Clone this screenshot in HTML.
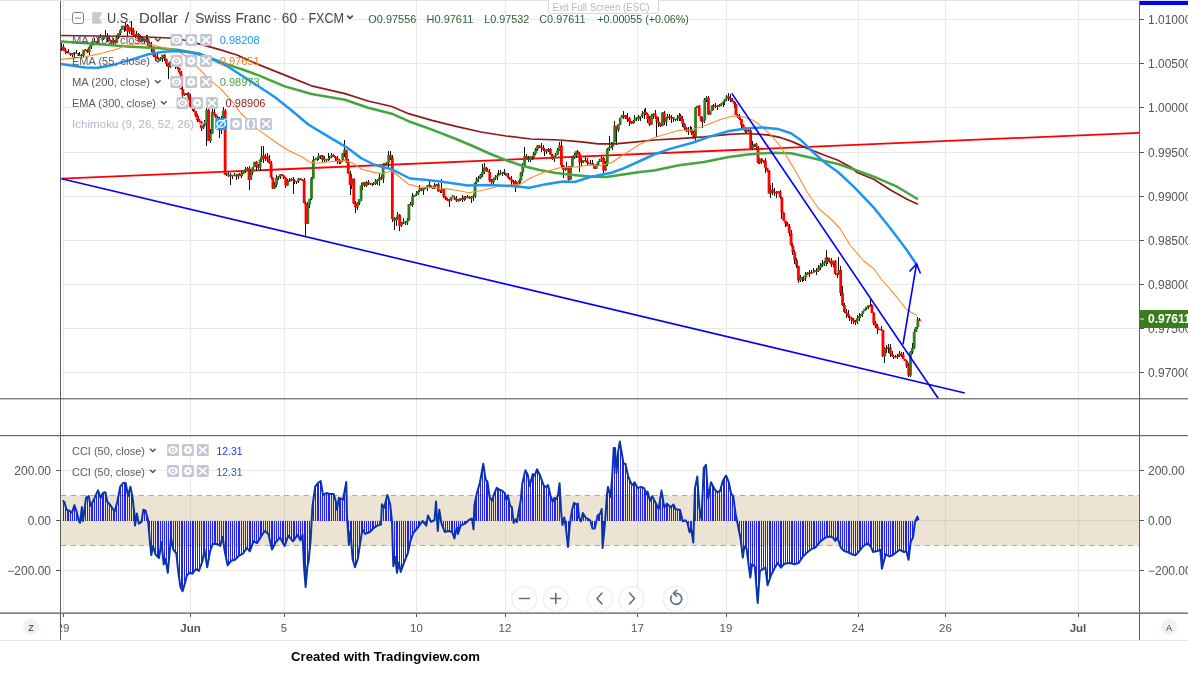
<!DOCTYPE html>
<html lang="en"><head><meta charset="utf-8"><title>U.S. Dollar / Swiss Franc chart</title>
<style>
html,body{margin:0;padding:0;background:#fff;}
body{width:1188px;height:676px;overflow:hidden;font-family:"Liberation Sans",sans-serif;}
svg{display:block;position:absolute;left:0;top:0}
text{font-family:"Liberation Sans",sans-serif;}
.ax{font-size:12px;fill:#555}
.lg{font-size:11.5px;fill:#5c5c5c}
.tm{font-size:11.5px;fill:#555}
</style></head><body>
<svg width="1188" height="676" viewBox="0 0 1188 676">
<rect x="0" y="0" width="1188" height="676" fill="#fff"/>

<g shape-rendering="crispEdges" stroke="#e9e9e9" stroke-width="1">
<line x1="63" y1="1" x2="63" y2="613"/>
<line x1="190.5" y1="1" x2="190.5" y2="613"/>
<line x1="284" y1="1" x2="284" y2="613"/>
<line x1="416.5" y1="1" x2="416.5" y2="613"/>
<line x1="505" y1="1" x2="505" y2="613"/>
<line x1="637.5" y1="1" x2="637.5" y2="613"/>
<line x1="726" y1="1" x2="726" y2="613"/>
<line x1="858" y1="1" x2="858" y2="613"/>
<line x1="945.5" y1="1" x2="945.5" y2="613"/>
<line x1="1078" y1="1" x2="1078" y2="613"/>
<line x1="61" y1="19.5" x2="1139" y2="19.5"/>
<line x1="61" y1="63.5" x2="1139" y2="63.5"/>
<line x1="61" y1="107.5" x2="1139" y2="107.5"/>
<line x1="61" y1="152.5" x2="1139" y2="152.5"/>
<line x1="61" y1="196.5" x2="1139" y2="196.5"/>
<line x1="61" y1="240.5" x2="1139" y2="240.5"/>
<line x1="61" y1="284.5" x2="1139" y2="284.5"/>
<line x1="61" y1="328.5" x2="1139" y2="328.5"/>
<line x1="61" y1="372.5" x2="1139" y2="372.5"/>
<line x1="61" y1="470.5" x2="1139" y2="470.5"/>
<line x1="61" y1="570.5" x2="1139" y2="570.5"/>
</g>
<rect x="61" y="495.5" width="1078" height="50" fill="#ece3d3"/>
<g shape-rendering="crispEdges" stroke="#d9d2c4" stroke-width="1">
<line x1="190.5" y1="496" x2="190.5" y2="545"/>
<line x1="284" y1="496" x2="284" y2="545"/>
<line x1="416.5" y1="496" x2="416.5" y2="545"/>
<line x1="505" y1="496" x2="505" y2="545"/>
<line x1="637.5" y1="496" x2="637.5" y2="545"/>
<line x1="726" y1="496" x2="726" y2="545"/>
<line x1="858" y1="496" x2="858" y2="545"/>
<line x1="945.5" y1="496" x2="945.5" y2="545"/>
<line x1="1078" y1="496" x2="1078" y2="545"/>
<line x1="61" y1="520.5" x2="1139" y2="520.5"/>
</g>
<g stroke="#a9a9a9" stroke-width="1" stroke-dasharray="5.3,4.4"><line x1="61" y1="495.5" x2="1139" y2="495.5"/><line x1="61" y1="545.5" x2="1139" y2="545.5"/></g>
<g stroke="#2020ff" stroke-width="1" shape-rendering="crispEdges">
<path d="M63.44 520.5V501.2M65.28 520.5V505.0M67.11 520.5V510.0M68.95 520.5V510.6M70.79 520.5V511.7M72.62 520.5V510.7M74.46 520.5V505.4M76.30 520.5V510.6M78.14 520.5V518.3M79.97 520.5V522.8M81.81 520.5V507.7M83.65 520.5V516.0M85.49 520.5V501.8M87.33 520.5V496.9M89.16 520.5V498.4M91.00 520.5V505.2M92.84 520.5V501.6M94.67 520.5V497.9M96.51 520.5V493.7M98.35 520.5V491.4M100.19 520.5V496.4M102.03 520.5V495.0M103.86 520.5V492.7M105.70 520.5V493.7M107.54 520.5V501.9M109.38 520.5V504.1M111.21 520.5V506.3M113.05 520.5V509.2M114.89 520.5V510.7M116.72 520.5V504.0M118.56 520.5V495.4M120.40 520.5V486.4M122.24 520.5V484.0M124.07 520.5V483.0M125.91 520.5V484.2M127.75 520.5V494.6M129.59 520.5V489.8M131.43 520.5V491.9M133.26 520.5V503.9M135.10 520.5V525.0M136.94 520.5V513.7M138.78 520.5V523.7M140.61 520.5V522.5M142.45 520.5V515.5M144.29 520.5V510.2M146.12 520.5V512.7M147.96 520.5V519.9M149.80 520.5V540.4M151.64 520.5V553.4M153.47 520.5V547.6M155.31 520.5V554.0M157.15 520.5V556.1M158.99 520.5V558.0M160.82 520.5V546.5M162.66 520.5V553.9M164.50 520.5V562.1M166.34 520.5V563.6M168.17 520.5V568.7M170.01 520.5V548.5M171.85 520.5V542.0M173.69 520.5V550.1M175.53 520.5V552.3M177.36 520.5V563.2M179.20 520.5V578.5M181.04 520.5V588.0M182.88 520.5V590.3M184.71 520.5V584.0M186.55 520.5V577.0M188.39 520.5V574.1M190.22 520.5V573.0M192.06 520.5V573.6M193.90 520.5V571.7M195.74 520.5V569.3M197.57 520.5V570.1M199.41 520.5V569.6M201.25 520.5V564.5M203.09 520.5V557.7M204.92 520.5V552.9M206.76 520.5V564.5M208.60 520.5V559.4M210.44 520.5V550.3M212.27 520.5V545.4M214.11 520.5V544.0M215.95 520.5V544.0M217.79 520.5V544.3M219.62 520.5V545.6M221.46 520.5V541.1M223.30 520.5V541.4M225.14 520.5V553.2M226.97 520.5V562.3M228.81 520.5V563.9M230.65 520.5V561.5M232.49 520.5V560.4M234.32 520.5V560.0M236.16 520.5V558.6M238.00 520.5V556.7M239.84 520.5V555.3M241.67 520.5V554.3M243.51 520.5V553.0M245.35 520.5V550.3M247.19 520.5V548.0M249.02 520.5V550.5M250.86 520.5V548.6M252.70 520.5V543.5M254.54 520.5V541.8M256.38 520.5V542.6M258.21 520.5V541.3M260.05 520.5V538.3M261.89 520.5V535.3M263.73 520.5V532.4M265.56 520.5V531.8M267.40 520.5V533.2M269.24 520.5V537.9M271.07 520.5V545.7M272.91 520.5V547.8M274.75 520.5V544.1M276.59 520.5V541.3M278.43 520.5V539.3M280.26 520.5V538.1M282.10 520.5V541.4M283.94 520.5V544.8M285.77 520.5V542.7M287.61 520.5V537.6M289.45 520.5V537.1M291.29 520.5V539.3M293.12 520.5V541.1M294.96 520.5V538.5M296.80 520.5V535.9M298.64 520.5V536.9M300.48 520.5V540.2M302.31 520.5V535.5M304.15 520.5V568.2M305.99 520.5V582.5M307.82 520.5V564.5M309.66 520.5V550.4M311.50 520.5V523.7M313.34 520.5V500.2M315.18 520.5V486.9M317.01 520.5V484.3M318.85 520.5V482.4M320.69 520.5V481.0M322.53 520.5V492.1M324.36 520.5V494.2M326.20 520.5V493.1M328.04 520.5V493.5M329.88 520.5V494.0M331.71 520.5V494.0M333.55 520.5V494.0M335.39 520.5V499.8M337.23 520.5V508.4M339.06 520.5V497.9M340.90 520.5V498.7M342.74 520.5V499.5M344.57 520.5V491.2M346.41 520.5V487.5M348.25 520.5V535.2M350.09 520.5V533.9M351.93 520.5V550.3M353.76 520.5V562.9M355.60 520.5V565.4M357.44 520.5V560.0M359.28 520.5V548.9M361.11 520.5V537.2M362.95 520.5V530.2M364.79 520.5V533.2M366.62 520.5V533.3M368.46 520.5V532.6M370.30 520.5V531.5M372.14 520.5V529.7M373.98 520.5V528.0M375.81 520.5V526.6M377.65 520.5V525.5M379.49 520.5V525.0M381.32 520.5V517.3M383.16 520.5V506.5M385.00 520.5V504.2M386.84 520.5V497.2M388.68 520.5V499.2M390.51 520.5V507.4M392.35 520.5V533.9M394.19 520.5V562.0M396.03 520.5V564.2M397.86 520.5V568.2M399.70 520.5V566.7M401.54 520.5V569.5M403.38 520.5V564.4M405.21 520.5V559.6M407.05 520.5V555.1M408.89 520.5V548.3M410.73 520.5V540.1M412.56 520.5V535.0M414.40 520.5V531.7M416.24 520.5V529.5M418.07 520.5V527.3M419.91 520.5V524.7M421.75 520.5V522.2M423.59 520.5V522.2M425.43 520.5V524.5M427.26 520.5V519.8M429.10 520.5V517.8M430.94 520.5V521.8M432.77 520.5V521.0M434.61 520.5V519.8M436.45 520.5V508.9M438.29 520.5V524.1M440.12 520.5V515.0M441.96 520.5V524.9M443.80 520.5V529.5M445.64 520.5V531.8M447.48 520.5V531.3M449.31 520.5V531.2M451.15 520.5V531.7M452.99 520.5V534.3M454.82 520.5V536.6M456.66 520.5V528.5M458.50 520.5V532.3M460.34 520.5V526.4M462.18 520.5V524.9M464.01 520.5V524.1M465.85 520.5V522.9M467.69 520.5V521.2M469.52 520.5V519.7M471.36 520.5V518.8M473.20 520.5V527.1M475.04 520.5V502.1M476.88 520.5V493.4M478.71 520.5V486.9M480.55 520.5V479.2M482.39 520.5V468.9M484.23 520.5V470.1M486.06 520.5V480.0M487.90 520.5V484.9M489.74 520.5V497.2M491.57 520.5V500.1M493.41 520.5V496.4M495.25 520.5V491.4M497.09 520.5V488.2M498.93 520.5V489.4M500.76 520.5V490.1M502.60 520.5V491.0M504.44 520.5V492.8M506.27 520.5V499.8M508.11 520.5V496.7M509.95 520.5V505.2M511.79 520.5V507.2M513.62 520.5V522.3M515.46 520.5V519.6M517.30 520.5V520.1M519.14 520.5V508.8M520.98 520.5V497.7M522.81 520.5V481.4M524.65 520.5V473.5M526.49 520.5V472.4M528.32 520.5V478.1M530.16 520.5V483.9M532.00 520.5V477.0M533.84 520.5V475.0M535.67 520.5V472.9M537.51 520.5V470.3M539.35 520.5V474.1M541.19 520.5V478.5M543.02 520.5V483.6M544.86 520.5V486.4M546.70 520.5V486.5M548.54 520.5V487.3M550.38 520.5V495.2M552.21 520.5V500.6M554.05 520.5V498.7M555.89 520.5V498.8M557.73 520.5V495.9M559.56 520.5V483.5M561.40 520.5V514.3M563.24 520.5V521.6M565.07 520.5V522.6M566.91 520.5V537.0M568.75 520.5V537.8M570.59 520.5V519.6M572.42 520.5V508.4M574.26 520.5V502.9M576.10 520.5V504.3M577.94 520.5V505.2M579.77 520.5V518.9M581.61 520.5V518.4M583.45 520.5V514.0M585.29 520.5V517.0M587.12 520.5V518.4M588.96 520.5V519.5M590.80 520.5V522.4M592.64 520.5V528.6M594.48 520.5V528.6M596.31 520.5V521.6M598.15 520.5V515.2M599.99 520.5V513.8M601.83 520.5V514.4M603.66 520.5V536.9M605.50 520.5V515.7M607.34 520.5V492.0M609.17 520.5V491.5M611.01 520.5V491.5M612.85 520.5V464.3M614.69 520.5V448.0M616.52 520.5V472.7M618.36 520.5V450.5M620.20 520.5V443.9M622.04 520.5V454.8M623.88 520.5V463.8M625.71 520.5V465.2M627.55 520.5V473.7M629.39 520.5V479.2M631.23 520.5V483.4M633.06 520.5V484.6M634.90 520.5V482.9M636.74 520.5V486.6M638.58 520.5V487.6M640.41 520.5V487.1M642.25 520.5V487.4M644.09 520.5V488.3M645.92 520.5V492.5M647.76 520.5V492.2M649.60 520.5V499.3M651.44 520.5V497.8M653.27 520.5V498.3M655.11 520.5V501.9M656.95 520.5V505.5M658.79 520.5V508.4M660.62 520.5V496.4M662.46 520.5V496.3M664.30 520.5V507.3M666.14 520.5V504.8M667.98 520.5V504.6M669.81 520.5V506.4M671.65 520.5V506.4M673.49 520.5V504.5M675.33 520.5V508.8M677.16 520.5V509.4M679.00 520.5V509.8M680.84 520.5V513.4M682.67 520.5V520.7M684.51 520.5V520.6M686.35 520.5V521.4M688.19 520.5V526.3M690.02 520.5V530.9M691.86 520.5V533.2M693.70 520.5V529.1M695.54 520.5V485.6M697.38 520.5V477.8M699.21 520.5V506.3M701.05 520.5V516.5M702.89 520.5V488.0M704.73 520.5V466.6M706.56 520.5V473.6M708.40 520.5V497.6M710.24 520.5V486.7M712.08 520.5V484.3M713.91 520.5V487.9M715.75 520.5V490.6M717.59 520.5V492.0M719.42 520.5V491.2M721.26 520.5V486.5M723.10 520.5V480.5M724.94 520.5V477.3M726.77 520.5V477.4M728.61 520.5V481.8M730.45 520.5V490.5M732.29 520.5V495.1M734.12 520.5V502.8M735.96 520.5V515.5M737.80 520.5V524.8M739.64 520.5V533.9M741.48 520.5V546.2M743.31 520.5V553.8M745.15 520.5V547.3M746.99 520.5V551.8M748.83 520.5V566.7M750.66 520.5V574.8M752.50 520.5V564.7M754.34 520.5V566.1M756.17 520.5V583.8M758.01 520.5V598.5M759.85 520.5V571.7M761.69 520.5V569.9M763.52 520.5V568.8M765.36 520.5V567.6M767.20 520.5V582.1M769.04 520.5V581.1M770.88 520.5V575.7M772.71 520.5V571.9M774.55 520.5V568.3M776.39 520.5V565.1M778.23 520.5V563.8M780.06 520.5V566.3M781.90 520.5V566.6M783.74 520.5V564.4M785.57 520.5V563.6M787.41 520.5V563.3M789.25 520.5V563.1M791.09 520.5V563.4M792.92 520.5V563.9M794.76 520.5V564.2M796.60 520.5V563.6M798.44 520.5V563.1M800.27 520.5V560.6M802.11 520.5V557.8M803.95 520.5V555.6M805.79 520.5V553.8M807.62 520.5V552.0M809.46 520.5V550.6M811.30 520.5V549.2M813.14 520.5V548.3M814.98 520.5V547.7M816.81 520.5V545.7M818.65 520.5V543.4M820.49 520.5V541.5M822.32 520.5V540.0M824.16 520.5V538.5M826.00 520.5V537.4M827.84 520.5V537.0M829.67 520.5V536.5M831.51 520.5V537.1M833.35 520.5V538.1M835.19 520.5V540.8M837.02 520.5V538.3M838.86 520.5V541.7M840.70 520.5V547.3M842.54 520.5V549.3M844.38 520.5V551.1M846.21 520.5V551.6M848.05 520.5V552.3M849.89 520.5V553.2M851.73 520.5V554.2M853.56 520.5V554.8M855.40 520.5V555.3M857.24 520.5V553.4M859.07 520.5V551.4M860.91 520.5V549.1M862.75 520.5V546.8M864.59 520.5V545.3M866.42 520.5V544.0M868.26 520.5V544.0M870.10 520.5V545.8M871.94 520.5V549.3M873.77 520.5V551.8M875.61 520.5V551.4M877.45 520.5V551.0M879.29 520.5V550.2M881.12 520.5V559.5M882.96 520.5V564.7M884.80 520.5V557.7M886.64 520.5V554.8M888.48 520.5V555.9M890.31 520.5V556.1M892.15 520.5V555.2M893.99 520.5V554.3M895.82 520.5V552.8M897.66 520.5V551.4M899.50 520.5V549.9M901.34 520.5V550.7M903.17 520.5V551.6M905.01 520.5V551.6M906.85 520.5V553.2M908.69 520.5V558.3M910.52 520.5V543.4M912.36 520.5V538.8M914.20 520.5V528.2M916.04 520.5V519.7M917.88 520.5V518.1" fill="none"/>
</g>
<polyline points="62.8,500.5 64.6,502.4 66.5,509.8 69.3,510.7 72.0,512.6 74.4,505.2 76.7,511.7 78.5,520.0 80.0,522.8 81.9,507.0 83.0,521.0 86.0,497.8 88.7,496.0 90.6,506.0 94.3,498.7 98.0,490.4 100.7,497.8 103.0,493.0 105.4,492.2 107.2,501.5 111.0,506.0 114.6,511.7 117.4,501.5 120.2,486.7 123.0,483.0 125.7,483.0 128.0,496.0 130.4,486.7 132.6,497.8 134.4,514.4 135.0,525.6 136.9,513.5 138.7,523.7 141.5,521.9 143.3,509.8 145.6,510.7 148.0,520.0 149.8,540.4 151.3,555.2 153.0,546.0 155.4,554.3 159.0,558.0 161.5,542.2 163.7,564.4 165.6,558.9 167.8,572.8 171.0,537.6 173.3,549.6 176.3,553.3 178.5,573.7 180.4,586.7 182.6,591.3 185.0,583.0 186.9,575.6 189.6,572.8 192.4,573.7 196.0,569.0 198.9,571.0 202.6,560.7 204.4,549.6 207.2,567.2 210.0,551.5 212.8,544.0 217.4,544.0 220.2,546.0 222.6,536.7 224.8,551.5 227.6,565.4 231.3,560.7 235.0,559.8 238.7,556.0 243.3,553.3 247.0,547.8 249.8,551.5 253.5,541.3 257.2,543.0 261.0,536.7 264.6,531.0 268.3,533.9 272.0,549.6 275.7,542.2 280.0,537.6 284.6,546.0 288.3,535.7 293.0,541.3 297.6,534.8 300.4,540.4 302.6,534.8 304.0,566.3 305.6,587.0 307.4,566.3 308.7,560.7 310.6,540.4 312.4,507.0 315.2,486.7 318.0,483.0 320.7,481.0 323.0,495.0 326.3,493.0 330.0,494.0 333.7,494.0 335.6,500.5 337.0,509.8 338.9,497.8 343.0,499.6 346.3,482.0 347.0,516.3 348.9,545.0 350.4,531.0 352.6,558.9 355.0,567.2 357.8,558.9 360.0,544.0 362.4,529.3 365.2,533.9 369.8,532.0 373.5,528.3 377.2,525.6 381.0,524.6 381.9,504.3 384.0,508.0 387.4,495.0 390.2,504.3 392.0,521.9 393.3,566.3 395.2,557.0 397.0,572.8 398.9,562.6 400.7,571.9 404.0,562.6 407.8,553.3 410.6,540.4 413.3,533.0 418.0,527.4 422.6,521.0 426.3,525.6 428.0,515.4 431.0,521.9 434.6,520.0 436.0,501.5 437.8,531.0 439.3,509.8 441.5,523.7 444.8,532.0 448.5,531.0 452.2,532.0 454.4,538.5 456.9,527.4 458.0,533.9 460.6,525.6 465.0,523.7 468.9,520.0 472.0,518.5 473.5,529.3 474.4,505.2 476.7,494.0 480.0,482.3 483.3,463.8 485.6,479.5 487.4,481.4 489.6,497.0 492.0,500.8 494.4,493.4 496.7,487.9 499.4,489.7 502.2,490.6 505.0,493.4 506.3,499.9 507.8,495.3 510.0,505.4 511.9,507.3 513.7,523.0 515.6,519.3 517.0,522.0 518.9,510.0 520.7,500.8 522.2,484.0 525.4,470.3 527.8,474.9 529.6,486.0 532.8,474.0 534.6,475.8 537.0,469.3 540.2,475.8 543.9,486.0 546.3,487.0 548.0,485.0 550.4,495.3 552.6,501.7 554.4,498.0 556.3,499.0 558.0,495.3 559.6,483.2 561.0,510.0 562.4,524.9 564.3,517.5 566.0,528.6 568.0,547.0 569.8,524.9 572.0,510.0 574.0,502.7 576.3,504.5 577.8,503.6 579.0,517.5 581.0,521.2 582.8,512.9 585.6,517.5 590.2,520.3 592.6,528.6 594.8,528.6 597.6,515.6 600.0,513.8 601.7,509.0 602.6,548.0 605.0,523.0 606.9,495.3 608.0,487.0 610.6,497.0 612.4,473.0 613.7,448.0 615.0,448.0 616.5,473.0 618.0,452.7 619.8,441.6 621.7,452.7 623.5,463.8 625.4,463.8 628.0,475.8 631.0,483.2 632.8,485.0 634.6,482.3 637.4,487.9 641.0,487.0 643.9,487.9 646.7,494.3 647.6,491.6 650.0,500.8 652.2,496.2 655.0,501.7 658.7,509.0 661.5,490.6 664.3,507.3 667.0,503.6 670.7,507.3 673.5,504.5 675.4,509.0 680.0,510.0 682.8,521.2 685.6,520.3 687.4,523.0 689.6,532.3 691.0,527.7 693.3,542.5 694.9,488.8 697.3,476.6 699.3,507.7 701.5,518.8 703.8,467.8 706.0,464.9 708.2,498.8 711.0,482.2 714.4,488.8 717.0,492.2 720.0,491.0 722.8,481.0 726.0,475.5 728.8,482.2 731.0,493.3 733.3,496.6 735.5,513.2 737.7,524.3 740.6,538.7 742.8,557.6 744.3,546.5 746.6,548.7 748.8,566.5 750.3,577.6 752.0,564.3 754.8,566.5 757.7,603.0 759.9,571.0 765.4,567.6 767.6,585.3 771.0,575.3 774.3,568.7 777.6,563.0 781.0,567.6 784.3,563.8 789.8,563.0 794.3,564.3 798.7,563.0 803.0,556.5 807.6,552.0 812.0,548.7 815.3,547.6 819.8,542.0 825.3,537.6 829.8,536.5 833.0,537.6 835.3,541.0 837.5,537.6 840.8,547.6 844.2,551.0 847.5,552.0 852.0,554.3 855.3,555.4 858.6,552.0 863.0,546.5 867.5,543.2 870.8,546.5 873.0,552.0 877.4,551.0 880.3,549.8 881.9,568.7 885.7,554.3 889.6,556.5 894.0,554.3 899.6,549.8 904.0,552.0 906.3,551.0 908.5,559.8 910.7,542.0 913.0,537.6 915.0,522.0 917.4,516.6 918.5,520.0" fill="none" stroke="#0a35a8" stroke-width="2" stroke-linejoin="round"/>
<line x1="61.5" y1="178.7" x2="1139" y2="132.8" stroke="#ff0000" stroke-width="1.8"/>
<path d="M61.60 43.4V50.7M63.44 43.8V51.4M65.28 47.9V54.0M67.11 51.4V53.4M68.95 49.4V53.4M70.79 52.7V55.6M72.62 53.4V56.6M74.46 51.9V57.2M76.30 50.2V54.3M78.14 53.0V56.1M79.97 51.8V56.4M81.81 54.0V56.9M83.65 49.7V57.5M85.49 49.4V50.6M87.33 48.8V52.9M89.16 45.5V55.2M91.00 42.0V48.7M92.84 38.5V43.0M94.67 38.2V42.2M96.51 40.7V43.6M98.35 36.0V43.1M100.19 34.2V38.2M102.03 38.0V40.8M103.86 34.7V39.8M105.70 30.2V37.0M107.54 33.4V42.2M109.38 34.6V40.9M111.21 40.2V44.7M113.05 38.2V44.7M114.89 40.1V43.2M116.72 35.3V43.3M118.56 32.6V38.8M120.40 28.8V34.6M122.24 25.8V30.0M124.07 25.8V31.5M125.91 21.5V30.8M127.75 24.0V36.2M129.59 27.0V33.6M131.43 21.2V34.8M133.26 28.0V36.2M135.10 34.0V37.7M136.94 31.1V36.6M138.78 33.3V42.2M140.61 35.0V41.6M142.45 35.8V42.0M144.29 38.0V43.8M146.12 35.3V42.2M147.96 35.4V45.5M149.80 41.4V47.2M151.64 42.3V51.5M153.47 46.4V57.1M155.31 52.6V60.6M157.15 52.4V59.1M158.99 57.4V60.0M160.82 56.5V60.5M162.66 54.6V61.6M164.50 53.5V60.6M166.34 58.5V66.2M168.17 63.1V79.4M170.01 60.8V67.6M171.85 57.3V66.3M173.69 61.4V67.1M175.53 61.8V69.0M177.36 63.3V69.0M179.20 67.7V73.9M181.04 70.7V89.8M182.88 86.4V98.2M184.71 92.9V95.7M186.55 92.9V95.3M188.39 92.3V100.4M190.22 93.8V106.8M192.06 104.6V110.9M193.90 104.5V111.8M195.74 110.5V116.5M197.57 114.0V121.5M199.41 118.8V124.0M201.25 120.6V131.0M203.09 124.4V128.5M204.92 119.7V127.2M206.76 108.1V146.0M208.60 109.2V141.2M210.44 128.6V143.3M212.27 109.4V133.6M214.11 108.1V115.5M215.95 114.1V118.1M217.79 115.8V118.9M219.62 117.1V138.0M221.46 116.0V134.1M223.30 107.2V120.6M225.14 109.3V174.7M226.97 173.2V175.8M228.81 171.6V177.4M230.65 173.2V184.7M232.49 174.5V178.8M234.32 172.8V175.6M236.16 173.6V180.4M238.00 173.7V179.3M239.84 173.3V176.3M241.67 170.9V177.9M243.51 169.6V174.1M245.35 167.2V173.0M247.19 166.9V170.3M249.02 166.4V190.0M250.86 169.2V180.2M252.70 166.8V174.6M254.54 161.6V167.4M256.38 160.7V170.6M258.21 164.2V168.7M260.05 158.4V171.2M261.89 146.0V161.9M263.73 146.4V163.3M265.56 154.2V160.7M267.40 153.0V162.3M269.24 154.5V163.8M271.07 160.6V178.7M272.91 177.0V188.7M274.75 181.8V188.8M276.59 175.0V186.5M278.43 175.7V180.2M280.26 173.7V178.5M282.10 173.5V176.2M283.94 174.9V179.3M285.77 176.5V187.8M287.61 178.6V185.9M289.45 178.1V181.9M291.29 178.4V180.6M293.12 177.1V193.5M294.96 178.5V183.5M296.80 180.8V183.8M298.64 178.4V182.8M300.48 178.3V180.2M302.31 178.9V181.4M304.15 177.7V203.6M305.99 201.3V236.0M307.82 201.5V224.4M309.66 198.7V207.7M311.50 176.5V200.0M313.34 155.9V179.2M315.18 157.7V160.4M317.01 156.8V160.5M318.85 152.9V159.5M320.69 154.9V159.3M322.53 154.5V161.5M324.36 155.5V162.2M326.20 158.9V162.2M328.04 153.3V160.9M329.88 155.9V159.7M331.71 152.8V158.3M333.55 153.9V157.4M335.39 155.6V161.3M337.23 156.3V164.3M339.06 159.3V163.6M340.90 160.3V164.2M342.74 153.0V162.1M344.57 140.0V156.7M346.41 149.7V162.5M348.25 159.0V174.0M350.09 170.6V195.0M351.93 173.8V189.3M353.76 178.5V204.3M355.60 201.2V212.8M357.44 202.4V209.8M359.28 198.7V205.3M361.11 183.1V201.2M362.95 182.2V189.7M364.79 181.7V186.7M366.62 180.9V187.3M368.46 180.0V184.7M370.30 183.1V185.3M372.14 183.2V185.5M373.98 181.9V184.6M375.81 179.1V184.8M377.65 179.2V184.6M379.49 173.3V186.1M381.32 175.2V180.3M383.16 162.5V182.7M385.00 162.5V164.6M386.84 162.1V164.2M388.68 151.0V167.9M390.51 150.5V160.2M392.35 154.6V222.2M394.19 217.4V229.5M396.03 216.8V225.6M397.86 212.4V219.5M399.70 213.6V231.0M401.54 222.0V226.7M403.38 218.0V223.7M405.21 221.2V225.4M407.05 218.3V225.2M408.89 203.8V220.7M410.73 201.7V205.1M412.56 193.1V207.2M414.40 194.5V197.4M416.24 190.7V195.8M418.07 189.8V194.9M419.91 185.3V191.5M421.75 188.0V190.7M423.59 188.4V194.9M425.43 186.8V188.7M427.26 184.9V191.1M429.10 180.1V188.2M430.94 184.5V187.9M432.77 186.6V189.1M434.61 183.2V189.4M436.45 184.1V186.2M438.29 183.1V191.7M440.12 189.6V193.4M441.96 178.5V192.6M443.80 189.2V197.8M445.64 195.7V199.8M447.48 198.4V201.1M449.31 198.5V206.8M451.15 196.6V201.0M452.99 194.9V197.1M454.82 195.7V199.9M456.66 196.4V202.4M458.50 199.1V201.9M460.34 197.7V201.2M462.18 194.5V202.1M464.01 195.8V201.0M465.85 196.0V200.4M467.69 194.6V198.4M469.52 195.6V199.4M471.36 196.2V202.9M473.20 193.9V201.0M475.04 181.5V198.3M476.88 177.2V184.1M478.71 175.6V182.2M480.55 173.6V179.4M482.39 163.5V176.9M484.23 163.0V173.8M486.06 167.4V170.5M487.90 167.9V172.3M489.74 169.2V181.6M491.57 178.8V186.0M493.41 177.9V184.2M495.25 175.1V179.5M497.09 172.8V180.0M498.93 170.4V175.5M500.76 169.5V175.4M502.60 172.3V176.3M504.44 169.1V174.7M506.27 173.1V176.2M508.11 173.0V179.0M509.95 177.4V180.2M511.79 176.1V185.5M513.62 180.1V186.1M515.46 180.1V192.0M517.30 181.7V188.0M519.14 179.0V184.6M520.98 172.4V182.5M522.81 163.3V175.5M524.65 146.8V167.3M526.49 153.5V159.0M528.32 155.9V161.6M530.16 156.4V162.0M532.00 155.9V159.8M533.84 152.4V159.0M535.67 148.3V155.4M537.51 145.0V150.9M539.35 145.4V147.6M541.19 143.3V152.3M543.02 145.3V150.5M544.86 148.0V155.9M546.70 149.1V154.3M548.54 147.7V151.9M550.38 148.2V155.4M552.21 154.1V159.7M554.05 155.6V161.9M555.89 152.9V156.5M557.73 148.2V154.9M559.56 141.8V151.0M561.40 141.2V167.3M563.24 164.8V177.8M565.07 167.3V171.2M566.91 162.1V170.3M568.75 165.7V180.7M570.59 166.3V179.9M572.42 155.7V166.6M574.26 153.4V159.0M576.10 150.7V157.9M577.94 150.0V154.5M579.77 151.9V172.0M581.61 158.2V166.2M583.45 159.8V162.9M585.29 157.3V162.3M587.12 157.9V165.8M588.96 162.3V164.4M590.80 160.3V165.4M592.64 160.3V165.0M594.48 164.7V168.8M596.31 163.8V168.9M598.15 160.9V165.5M599.99 159.4V161.9M601.83 155.6V162.3M603.66 157.3V172.5M605.50 161.0V170.7M607.34 147.5V166.0M609.17 136.0V150.5M611.01 141.9V148.4M612.85 141.5V150.1M614.69 121.4V142.4M616.52 125.6V145.0M618.36 124.1V132.3M620.20 117.5V125.2M622.04 115.1V118.3M623.88 110.9V118.8M625.71 115.2V118.9M627.55 113.1V122.2M629.39 116.5V126.2M631.23 120.6V124.1M633.06 119.5V123.6M634.90 115.2V123.2M636.74 117.3V120.6M638.58 115.1V120.5M640.41 115.5V121.3M642.25 111.2V118.3M644.09 109.0V118.7M645.92 108.0V115.0M647.76 112.8V123.2M649.60 115.9V125.8M651.44 114.1V125.3M653.27 113.1V118.8M655.11 109.6V118.7M656.95 116.1V136.9M658.79 117.4V126.7M660.62 122.9V127.3M662.46 111.7V126.4M664.30 111.3V125.0M666.14 116.5V125.5M667.98 113.6V118.9M669.81 113.7V120.3M671.65 115.3V122.7M673.49 117.1V122.0M675.33 118.6V120.5M677.16 114.8V121.2M679.00 112.7V121.2M680.84 114.1V120.9M682.67 116.4V126.5M684.51 122.5V129.6M686.35 127.3V131.6M688.19 127.2V135.2M690.02 126.2V132.2M691.86 126.6V135.2M693.70 131.2V138.5M695.54 106.8V140.6M697.38 105.7V108.2M699.21 104.8V116.4M701.05 115.6V121.5M702.89 117.3V127.7M704.73 98.1V123.1M706.56 96.0V101.7M708.40 95.9V114.6M710.24 110.5V115.1M712.08 104.6V111.3M713.91 103.8V109.8M715.75 103.4V107.6M717.59 104.9V109.7M719.42 103.9V106.6M721.26 103.0V105.6M723.10 101.0V106.9M724.94 98.5V104.8M726.77 95.1V101.0M728.61 92.8V100.8M730.45 94.0V101.9M732.29 98.1V101.9M734.12 101.3V108.4M735.96 101.6V115.1M737.80 113.9V117.5M739.64 113.8V119.6M741.48 118.8V128.7M743.31 123.8V129.6M745.15 127.3V132.7M746.99 128.2V134.3M748.83 126.5V132.1M750.66 129.4V149.2M752.50 140.9V149.8M754.34 143.6V146.8M756.17 142.6V150.2M758.01 146.2V164.0M759.85 157.9V164.3M761.69 157.6V163.7M763.52 159.5V163.0M765.36 158.3V173.3M767.20 167.6V171.5M769.04 169.5V193.8M770.88 184.8V197.7M772.71 183.0V195.2M774.55 188.0V195.5M776.39 191.3V197.8M778.23 190.8V193.4M780.06 189.7V199.1M781.90 196.1V218.6M783.74 212.3V221.2M785.57 220.6V227.1M787.41 221.8V226.4M789.25 224.3V235.8M791.09 230.4V246.9M792.92 243.4V254.9M794.76 249.7V263.8M796.60 258.3V268.0M798.44 265.6V283.0M800.27 275.3V282.0M802.11 276.8V281.7M803.95 275.5V281.1M805.79 272.1V281.4M807.62 272.1V274.5M809.46 270.1V277.3M811.30 270.4V273.9M813.14 267.7V273.0M814.98 269.6V272.4M816.81 268.4V274.7M818.65 265.3V271.8M820.49 263.4V269.5M822.32 260.0V266.6M824.16 261.0V265.7M826.00 250.0V266.1M827.84 256.8V264.1M829.67 257.6V263.3M831.51 258.2V266.7M833.35 260.8V266.8M835.19 260.0V274.5M837.02 272.8V277.8M838.86 257.0V275.0M840.70 265.6V296.0M842.54 285.9V306.4M844.38 302.7V312.6M846.21 309.4V317.9M848.05 310.0V318.0M849.89 315.3V320.5M851.73 316.8V323.7M853.56 317.8V323.6M855.40 320.2V324.6M857.24 315.1V324.1M859.07 313.3V321.4M860.91 314.1V318.0M862.75 311.2V316.7M864.59 308.6V311.4M866.42 306.5V310.4M868.26 305.2V308.7M870.10 299.0V306.9M871.94 303.8V313.2M873.77 311.7V325.2M875.61 320.7V327.7M877.45 323.9V333.5M879.29 328.5V329.9M881.12 325.9V330.8M882.96 329.9V357.3M884.80 346.9V362.8M886.64 345.2V352.6M888.48 344.4V353.4M890.31 343.6V356.5M892.15 351.0V356.8M893.99 355.0V359.1M895.82 355.3V357.9M897.66 354.2V358.6M899.50 351.1V357.2M901.34 351.9V357.0M903.17 352.2V359.1M905.01 358.9V361.3M906.85 359.8V368.2M908.69 363.1V376.7M910.52 350.5V377.3M912.36 343.0V354.4M914.20 329.0V349.3M916.04 326.6V332.2M917.88 317.0V329.0M919.71 317.8V321.2" stroke="#111" stroke-width="1" fill="none" shape-rendering="crispEdges"/>
<path d="M60.20 46.7h2.8V48.2h-2.8zM67.55 52.2h2.8V53.4h-2.8zM71.22 53.6h2.8V54.9h-2.8zM73.06 52.3h2.8V53.6h-2.8zM74.90 52.8h2.8V54.0h-2.8zM80.41 55.0h2.8V56.2h-2.8zM82.25 49.8h2.8V55.6h-2.8zM87.76 47.0h2.8V52.3h-2.8zM89.60 42.8h2.8V47.0h-2.8zM91.44 40.9h2.8V42.8h-2.8zM96.95 37.8h2.8V42.8h-2.8zM98.79 36.5h2.8V37.8h-2.8zM102.46 36.2h2.8V39.3h-2.8zM104.30 35.5h2.8V36.7h-2.8zM111.65 40.3h2.8V43.2h-2.8zM115.32 37.7h2.8V43.2h-2.8zM117.16 33.0h2.8V37.7h-2.8zM119.00 29.9h2.8V33.0h-2.8zM120.84 25.8h2.8V29.9h-2.8zM124.51 25.1h2.8V27.3h-2.8zM128.19 27.5h2.8V31.6h-2.8zM135.54 34.1h2.8V35.6h-2.8zM139.21 37.3h2.8V41.2h-2.8zM144.72 39.0h2.8V41.5h-2.8zM159.42 58.0h2.8V59.6h-2.8zM161.26 54.8h2.8V58.0h-2.8zM168.61 61.4h2.8V67.0h-2.8zM172.29 63.7h2.8V66.3h-2.8zM183.31 93.0h2.8V95.2h-2.8zM201.69 125.5h2.8V128.2h-2.8zM203.52 123.1h2.8V125.5h-2.8zM205.36 110.1h2.8V123.1h-2.8zM209.04 133.2h2.8V141.1h-2.8zM210.87 111.8h2.8V133.2h-2.8zM220.06 118.6h2.8V130.2h-2.8zM221.90 110.5h2.8V118.6h-2.8zM225.57 173.6h2.8V174.8h-2.8zM231.09 175.0h2.8V176.2h-2.8zM232.92 174.6h2.8V175.8h-2.8zM236.60 173.8h2.8V176.6h-2.8zM240.27 173.6h2.8V176.2h-2.8zM242.11 170.9h2.8V173.6h-2.8zM243.95 169.6h2.8V170.9h-2.8zM245.79 168.3h2.8V169.6h-2.8zM249.46 172.6h2.8V180.1h-2.8zM251.30 167.3h2.8V172.6h-2.8zM253.14 161.8h2.8V167.3h-2.8zM258.65 159.6h2.8V167.6h-2.8zM260.49 155.5h2.8V159.6h-2.8zM264.16 156.6h2.8V158.7h-2.8zM273.35 184.7h2.8V188.4h-2.8zM275.19 178.0h2.8V184.7h-2.8zM277.03 176.6h2.8V178.0h-2.8zM278.86 174.2h2.8V176.6h-2.8zM286.21 180.4h2.8V185.6h-2.8zM289.89 179.1h2.8V180.3h-2.8zM295.40 180.9h2.8V182.1h-2.8zM297.24 178.6h2.8V180.9h-2.8zM306.43 204.6h2.8V223.9h-2.8zM308.26 198.8h2.8V204.6h-2.8zM310.10 178.3h2.8V198.8h-2.8zM311.94 159.8h2.8V178.3h-2.8zM313.78 159.0h2.8V160.2h-2.8zM315.61 157.7h2.8V159.0h-2.8zM317.45 155.8h2.8V158.7h-2.8zM319.29 155.2h2.8V156.4h-2.8zM322.96 158.8h2.8V160.0h-2.8zM324.80 159.2h2.8V160.4h-2.8zM326.64 158.6h2.8V159.8h-2.8zM328.48 157.2h2.8V158.6h-2.8zM330.31 155.1h2.8V157.2h-2.8zM339.50 161.2h2.8V162.4h-2.8zM341.34 153.2h2.8V161.2h-2.8zM343.18 149.7h2.8V153.2h-2.8zM350.53 178.6h2.8V185.0h-2.8zM356.04 203.0h2.8V207.5h-2.8zM357.88 199.0h2.8V203.0h-2.8zM359.71 185.5h2.8V199.0h-2.8zM361.55 182.2h2.8V185.5h-2.8zM365.23 181.9h2.8V185.7h-2.8zM368.90 183.2h2.8V184.4h-2.8zM372.58 183.1h2.8V184.3h-2.8zM374.41 180.7h2.8V184.1h-2.8zM376.25 179.7h2.8V180.9h-2.8zM378.09 177.2h2.8V180.5h-2.8zM381.76 164.3h2.8V178.8h-2.8zM383.60 163.1h2.8V164.3h-2.8zM385.44 162.4h2.8V163.6h-2.8zM387.28 154.9h2.8V162.4h-2.8zM394.63 217.7h2.8V220.4h-2.8zM396.46 214.8h2.8V217.7h-2.8zM400.14 222.8h2.8V225.8h-2.8zM401.98 221.4h2.8V222.8h-2.8zM403.81 222.1h2.8V223.4h-2.8zM405.65 220.5h2.8V223.0h-2.8zM407.49 204.3h2.8V220.5h-2.8zM411.16 196.4h2.8V205.1h-2.8zM413.00 195.1h2.8V196.4h-2.8zM414.84 193.8h2.8V195.1h-2.8zM416.68 191.2h2.8V193.8h-2.8zM418.51 188.6h2.8V191.2h-2.8zM422.19 188.5h2.8V190.3h-2.8zM424.03 187.2h2.8V188.5h-2.8zM425.86 185.3h2.8V187.2h-2.8zM427.70 184.4h2.8V185.6h-2.8zM433.21 185.0h2.8V188.4h-2.8zM435.05 184.3h2.8V185.5h-2.8zM438.73 190.4h2.8V191.6h-2.8zM440.56 189.3h2.8V190.5h-2.8zM449.75 197.0h2.8V199.9h-2.8zM451.59 195.6h2.8V197.0h-2.8zM457.10 199.7h2.8V200.9h-2.8zM458.94 198.0h2.8V199.7h-2.8zM462.61 196.5h2.8V199.7h-2.8zM466.29 196.7h2.8V198.2h-2.8zM469.96 197.0h2.8V198.2h-2.8zM471.80 195.7h2.8V197.0h-2.8zM473.64 182.5h2.8V196.6h-2.8zM475.48 179.1h2.8V182.5h-2.8zM477.31 177.9h2.8V179.1h-2.8zM479.15 174.7h2.8V177.9h-2.8zM480.99 171.9h2.8V174.7h-2.8zM482.83 167.5h2.8V171.9h-2.8zM492.01 178.7h2.8V182.2h-2.8zM493.85 177.0h2.8V178.7h-2.8zM495.69 175.4h2.8V177.0h-2.8zM497.53 173.6h2.8V175.4h-2.8zM499.36 172.6h2.8V173.8h-2.8zM501.20 172.8h2.8V174.0h-2.8zM503.04 171.6h2.8V172.8h-2.8zM512.23 181.1h2.8V182.3h-2.8zM515.90 182.0h2.8V186.5h-2.8zM517.74 180.5h2.8V182.0h-2.8zM519.58 172.4h2.8V180.5h-2.8zM521.41 166.9h2.8V172.4h-2.8zM523.25 155.9h2.8V166.9h-2.8zM528.76 156.6h2.8V159.9h-2.8zM532.44 153.5h2.8V157.7h-2.8zM534.27 149.3h2.8V153.5h-2.8zM536.11 145.5h2.8V149.3h-2.8zM545.30 149.2h2.8V151.5h-2.8zM552.65 156.0h2.8V158.9h-2.8zM554.49 154.7h2.8V156.0h-2.8zM556.33 150.1h2.8V154.7h-2.8zM558.16 145.4h2.8V150.1h-2.8zM563.67 169.0h2.8V170.2h-2.8zM565.51 166.7h2.8V170.0h-2.8zM569.19 166.6h2.8V179.5h-2.8zM571.02 157.7h2.8V166.6h-2.8zM572.86 155.1h2.8V157.7h-2.8zM574.70 151.2h2.8V155.1h-2.8zM580.21 161.7h2.8V162.9h-2.8zM582.05 159.9h2.8V161.7h-2.8zM594.91 164.3h2.8V168.7h-2.8zM596.75 161.4h2.8V164.3h-2.8zM598.59 160.2h2.8V161.4h-2.8zM600.43 158.0h2.8V160.2h-2.8zM604.10 164.2h2.8V170.4h-2.8zM605.94 148.8h2.8V164.2h-2.8zM607.77 147.0h2.8V148.8h-2.8zM609.61 146.3h2.8V147.5h-2.8zM611.45 142.2h2.8V146.7h-2.8zM613.29 125.7h2.8V142.2h-2.8zM616.96 124.2h2.8V129.9h-2.8zM618.80 117.7h2.8V124.2h-2.8zM620.64 115.1h2.8V117.7h-2.8zM631.66 120.8h2.8V123.5h-2.8zM633.50 118.7h2.8V120.8h-2.8zM635.34 117.3h2.8V118.7h-2.8zM637.18 116.5h2.8V119.2h-2.8zM639.01 115.9h2.8V117.1h-2.8zM640.85 113.5h2.8V115.9h-2.8zM642.69 112.1h2.8V113.5h-2.8zM650.04 115.8h2.8V124.5h-2.8zM651.88 113.8h2.8V115.8h-2.8zM661.06 112.4h2.8V126.3h-2.8zM664.74 117.7h2.8V122.1h-2.8zM666.58 116.3h2.8V117.7h-2.8zM672.09 117.3h2.8V118.5h-2.8zM675.76 117.9h2.8V119.3h-2.8zM677.60 115.8h2.8V119.3h-2.8zM688.62 129.8h2.8V131.1h-2.8zM694.14 107.7h2.8V137.0h-2.8zM695.98 105.8h2.8V107.7h-2.8zM701.49 120.5h2.8V121.7h-2.8zM703.33 99.4h2.8V120.5h-2.8zM705.16 97.7h2.8V99.4h-2.8zM708.84 110.5h2.8V114.4h-2.8zM710.68 105.2h2.8V110.5h-2.8zM716.19 105.6h2.8V106.8h-2.8zM718.02 104.9h2.8V106.6h-2.8zM719.86 103.6h2.8V104.9h-2.8zM721.70 101.8h2.8V103.6h-2.8zM723.54 99.3h2.8V101.8h-2.8zM725.38 96.4h2.8V99.3h-2.8zM745.59 130.0h2.8V131.6h-2.8zM751.10 145.4h2.8V148.7h-2.8zM752.94 143.7h2.8V145.4h-2.8zM758.45 158.8h2.8V163.0h-2.8zM762.12 160.5h2.8V161.7h-2.8zM769.48 189.5h2.8V193.5h-2.8zM776.83 191.2h2.8V193.4h-2.8zM798.88 277.0h2.8V280.4h-2.8zM804.39 274.5h2.8V277.8h-2.8zM806.23 272.5h2.8V274.5h-2.8zM811.74 271.9h2.8V273.1h-2.8zM813.58 270.5h2.8V271.9h-2.8zM817.25 267.8h2.8V270.8h-2.8zM819.09 265.8h2.8V267.8h-2.8zM820.92 263.4h2.8V265.8h-2.8zM822.76 262.3h2.8V263.5h-2.8zM824.60 257.6h2.8V263.3h-2.8zM831.95 260.8h2.8V264.6h-2.8zM837.46 270.0h2.8V273.8h-2.8zM855.84 318.0h2.8V321.1h-2.8zM857.67 315.9h2.8V318.0h-2.8zM859.51 314.3h2.8V315.9h-2.8zM861.35 311.3h2.8V314.3h-2.8zM863.19 308.7h2.8V311.3h-2.8zM865.02 306.8h2.8V308.7h-2.8zM866.86 305.3h2.8V306.8h-2.8zM883.40 347.9h2.8V356.3h-2.8zM887.08 346.7h2.8V347.9h-2.8zM898.10 353.5h2.8V356.3h-2.8zM909.12 351.7h2.8V375.5h-2.8zM910.96 347.9h2.8V351.7h-2.8zM912.80 331.8h2.8V347.9h-2.8zM914.64 326.9h2.8V331.8h-2.8zM916.48 319.6h2.8V326.9h-2.8z" fill="#2e7d1f"/>
<path d="M62.04 46.7h2.8V50.3h-2.8zM63.88 50.3h2.8V51.6h-2.8zM65.71 51.6h2.8V53.3h-2.8zM69.39 53.1h2.8V54.9h-2.8zM76.74 54.5h2.8V55.7h-2.8zM78.57 54.7h2.8V55.9h-2.8zM84.09 49.8h2.8V51.0h-2.8zM85.92 50.4h2.8V52.3h-2.8zM93.27 40.9h2.8V42.1h-2.8zM95.11 41.1h2.8V42.8h-2.8zM100.62 38.2h2.8V39.4h-2.8zM106.14 36.2h2.8V39.2h-2.8zM107.97 39.2h2.8V40.7h-2.8zM109.81 40.7h2.8V43.2h-2.8zM113.49 40.3h2.8V43.2h-2.8zM122.67 25.8h2.8V27.3h-2.8zM126.35 25.1h2.8V31.6h-2.8zM130.03 27.5h2.8V29.7h-2.8zM131.86 29.7h2.8V35.1h-2.8zM133.70 35.1h2.8V36.3h-2.8zM137.38 34.1h2.8V41.2h-2.8zM141.05 37.3h2.8V38.5h-2.8zM142.89 38.5h2.8V41.5h-2.8zM146.56 39.0h2.8V42.8h-2.8zM148.40 42.8h2.8V46.7h-2.8zM150.24 46.7h2.8V49.0h-2.8zM152.07 49.0h2.8V55.4h-2.8zM153.91 55.4h2.8V57.2h-2.8zM155.75 57.2h2.8V58.7h-2.8zM157.59 58.7h2.8V59.9h-2.8zM163.10 54.8h2.8V58.7h-2.8zM164.94 58.7h2.8V63.7h-2.8zM166.77 63.7h2.8V67.0h-2.8zM170.45 61.4h2.8V66.3h-2.8zM174.12 63.7h2.8V65.8h-2.8zM175.96 65.8h2.8V67.8h-2.8zM177.80 67.8h2.8V72.5h-2.8zM179.64 72.5h2.8V89.1h-2.8zM181.47 89.1h2.8V95.2h-2.8zM185.15 93.0h2.8V94.2h-2.8zM186.99 92.8h2.8V96.7h-2.8zM188.82 96.7h2.8V106.7h-2.8zM190.66 106.7h2.8V108.3h-2.8zM192.50 108.3h2.8V111.1h-2.8zM194.34 111.1h2.8V115.7h-2.8zM196.17 115.7h2.8V120.2h-2.8zM198.01 120.2h2.8V122.1h-2.8zM199.85 122.1h2.8V128.2h-2.8zM207.20 110.1h2.8V141.1h-2.8zM212.71 111.8h2.8V114.3h-2.8zM214.55 114.3h2.8V116.8h-2.8zM216.39 116.8h2.8V118.7h-2.8zM218.22 118.7h2.8V130.2h-2.8zM223.74 110.5h2.8V174.7h-2.8zM227.41 175.0h2.8V176.2h-2.8zM229.25 174.7h2.8V175.9h-2.8zM234.76 175.3h2.8V176.6h-2.8zM238.44 173.8h2.8V176.2h-2.8zM247.62 168.3h2.8V180.1h-2.8zM254.97 161.8h2.8V166.5h-2.8zM256.81 166.5h2.8V167.7h-2.8zM262.33 155.5h2.8V158.7h-2.8zM266.00 156.6h2.8V159.3h-2.8zM267.84 159.3h2.8V163.3h-2.8zM269.68 163.3h2.8V177.6h-2.8zM271.51 177.6h2.8V188.4h-2.8zM280.70 174.2h2.8V175.6h-2.8zM282.54 175.6h2.8V178.0h-2.8zM284.38 178.0h2.8V185.6h-2.8zM288.05 180.4h2.8V181.7h-2.8zM291.73 179.1h2.8V180.6h-2.8zM293.56 180.6h2.8V181.8h-2.8zM299.08 178.6h2.8V179.8h-2.8zM300.91 179.3h2.8V180.5h-2.8zM302.75 180.0h2.8V202.9h-2.8zM304.59 202.9h2.8V223.9h-2.8zM321.13 155.2h2.8V159.9h-2.8zM332.15 155.1h2.8V156.8h-2.8zM333.99 156.8h2.8V158.0h-2.8zM335.83 157.9h2.8V160.9h-2.8zM337.66 160.9h2.8V162.3h-2.8zM345.01 149.7h2.8V161.7h-2.8zM346.85 161.7h2.8V173.4h-2.8zM348.69 173.4h2.8V185.0h-2.8zM352.36 178.6h2.8V203.4h-2.8zM354.20 203.4h2.8V207.5h-2.8zM363.39 182.2h2.8V185.7h-2.8zM367.06 181.9h2.8V183.8h-2.8zM370.74 183.2h2.8V184.4h-2.8zM379.93 177.2h2.8V178.8h-2.8zM389.11 154.9h2.8V157.7h-2.8zM390.95 157.7h2.8V219.0h-2.8zM392.79 219.0h2.8V220.4h-2.8zM398.30 214.8h2.8V225.8h-2.8zM409.33 204.3h2.8V205.5h-2.8zM420.35 188.6h2.8V190.3h-2.8zM429.54 185.6h2.8V187.4h-2.8zM431.38 187.4h2.8V188.6h-2.8zM436.89 184.3h2.8V191.3h-2.8zM442.40 189.3h2.8V196.5h-2.8zM444.24 196.5h2.8V198.8h-2.8zM446.08 198.8h2.8V200.4h-2.8zM447.91 200.4h2.8V201.6h-2.8zM453.43 197.6h2.8V199.0h-2.8zM455.26 199.0h2.8V200.7h-2.8zM460.78 198.0h2.8V199.7h-2.8zM464.45 196.5h2.8V198.2h-2.8zM468.12 196.7h2.8V198.2h-2.8zM484.66 167.5h2.8V170.4h-2.8zM486.50 170.4h2.8V172.1h-2.8zM488.34 172.1h2.8V180.6h-2.8zM490.18 180.6h2.8V182.2h-2.8zM504.88 173.2h2.8V175.7h-2.8zM506.71 175.7h2.8V177.8h-2.8zM508.55 177.8h2.8V179.2h-2.8zM510.39 179.2h2.8V182.2h-2.8zM514.06 181.1h2.8V186.5h-2.8zM525.09 155.9h2.8V158.5h-2.8zM526.92 158.5h2.8V159.9h-2.8zM530.60 156.6h2.8V157.8h-2.8zM537.95 145.5h2.8V146.9h-2.8zM539.79 146.9h2.8V148.1h-2.8zM541.62 147.9h2.8V149.7h-2.8zM543.46 149.7h2.8V151.5h-2.8zM547.14 149.2h2.8V150.4h-2.8zM548.98 149.0h2.8V154.5h-2.8zM550.81 154.5h2.8V158.9h-2.8zM560.00 145.4h2.8V165.2h-2.8zM561.84 165.2h2.8V169.7h-2.8zM567.35 166.7h2.8V179.5h-2.8zM576.54 151.2h2.8V153.7h-2.8zM578.38 153.7h2.8V162.3h-2.8zM583.89 159.9h2.8V161.1h-2.8zM585.73 160.5h2.8V163.1h-2.8zM587.56 163.1h2.8V164.3h-2.8zM589.40 162.9h2.8V164.1h-2.8zM591.24 162.9h2.8V164.8h-2.8zM593.08 164.8h2.8V168.7h-2.8zM602.26 158.0h2.8V170.4h-2.8zM615.12 125.7h2.8V129.9h-2.8zM622.48 115.1h2.8V116.4h-2.8zM624.31 115.2h2.8V118.2h-2.8zM626.15 118.2h2.8V119.4h-2.8zM627.99 117.9h2.8V121.3h-2.8zM629.83 121.3h2.8V123.5h-2.8zM644.52 112.1h2.8V114.2h-2.8zM646.36 114.2h2.8V119.1h-2.8zM648.20 119.1h2.8V124.5h-2.8zM653.71 113.8h2.8V116.5h-2.8zM655.55 116.5h2.8V121.4h-2.8zM657.39 121.4h2.8V123.6h-2.8zM659.23 123.6h2.8V126.3h-2.8zM662.90 112.4h2.8V122.1h-2.8zM668.41 116.3h2.8V117.5h-2.8zM670.25 117.2h2.8V118.5h-2.8zM673.93 118.9h2.8V120.1h-2.8zM679.44 115.8h2.8V119.0h-2.8zM681.27 119.0h2.8V123.7h-2.8zM683.11 123.7h2.8V128.1h-2.8zM684.95 128.1h2.8V130.2h-2.8zM686.79 130.2h2.8V131.4h-2.8zM690.46 129.8h2.8V133.2h-2.8zM692.30 133.2h2.8V137.0h-2.8zM697.81 105.8h2.8V116.3h-2.8zM699.65 116.3h2.8V121.3h-2.8zM707.00 97.7h2.8V114.4h-2.8zM712.51 105.2h2.8V106.4h-2.8zM714.35 105.9h2.8V107.1h-2.8zM727.21 96.4h2.8V97.9h-2.8zM729.05 97.9h2.8V99.5h-2.8zM730.89 99.5h2.8V101.7h-2.8zM732.73 101.7h2.8V103.7h-2.8zM734.56 103.7h2.8V115.1h-2.8zM736.40 115.1h2.8V116.4h-2.8zM738.24 116.4h2.8V118.9h-2.8zM740.08 118.9h2.8V125.0h-2.8zM741.91 125.0h2.8V127.9h-2.8zM743.75 127.9h2.8V131.6h-2.8zM747.43 130.0h2.8V131.2h-2.8zM749.26 130.4h2.8V148.7h-2.8zM754.77 143.7h2.8V146.9h-2.8zM756.61 146.9h2.8V163.0h-2.8zM760.29 158.8h2.8V161.4h-2.8zM763.96 160.5h2.8V167.7h-2.8zM765.80 167.7h2.8V170.5h-2.8zM767.64 170.5h2.8V193.5h-2.8zM771.31 189.5h2.8V191.7h-2.8zM773.15 191.7h2.8V192.9h-2.8zM774.99 192.1h2.8V193.4h-2.8zM778.66 191.2h2.8V197.2h-2.8zM780.50 197.2h2.8V212.5h-2.8zM782.34 212.5h2.8V220.8h-2.8zM784.17 220.8h2.8V223.5h-2.8zM786.01 223.5h2.8V226.3h-2.8zM787.85 226.3h2.8V233.1h-2.8zM789.69 233.1h2.8V245.3h-2.8zM791.52 245.3h2.8V252.2h-2.8zM793.36 252.2h2.8V260.1h-2.8zM795.20 260.1h2.8V265.7h-2.8zM797.04 265.7h2.8V280.4h-2.8zM800.71 277.0h2.8V278.3h-2.8zM802.55 278.3h2.8V279.5h-2.8zM808.06 272.5h2.8V273.7h-2.8zM809.90 272.0h2.8V273.2h-2.8zM815.41 270.5h2.8V271.7h-2.8zM826.44 257.6h2.8V260.9h-2.8zM828.27 260.9h2.8V262.1h-2.8zM830.11 260.5h2.8V264.6h-2.8zM833.79 260.8h2.8V274.1h-2.8zM835.62 274.1h2.8V275.3h-2.8zM839.30 270.0h2.8V292.8h-2.8zM841.14 292.8h2.8V305.1h-2.8zM842.98 305.1h2.8V312.0h-2.8zM844.81 312.0h2.8V313.6h-2.8zM846.65 313.6h2.8V316.4h-2.8zM848.49 316.4h2.8V317.6h-2.8zM850.33 317.5h2.8V319.7h-2.8zM852.16 319.7h2.8V321.0h-2.8zM854.00 321.0h2.8V322.2h-2.8zM868.70 305.3h2.8V306.5h-2.8zM870.54 304.8h2.8V312.4h-2.8zM872.38 312.4h2.8V323.2h-2.8zM874.21 323.2h2.8V326.3h-2.8zM876.05 326.3h2.8V328.8h-2.8zM877.89 328.8h2.8V330.0h-2.8zM879.73 329.0h2.8V330.2h-2.8zM881.56 329.9h2.8V356.3h-2.8zM885.24 347.9h2.8V349.1h-2.8zM888.91 347.5h2.8V354.0h-2.8zM890.75 354.0h2.8V355.9h-2.8zM892.59 355.9h2.8V357.1h-2.8zM894.42 356.1h2.8V357.3h-2.8zM896.26 355.9h2.8V357.1h-2.8zM899.94 353.5h2.8V355.0h-2.8zM901.77 355.0h2.8V359.1h-2.8zM903.61 359.1h2.8V361.1h-2.8zM905.45 361.1h2.8V366.1h-2.8zM907.29 366.1h2.8V375.5h-2.8zM918.31 319.6h2.8V320.8h-2.8z" fill="#ff0000"/>
<polyline points="61.0,35.5 133.6,36.5 170.0,38.0 183.7,40.0 198.8,43.8 218.9,49.3 237.0,55.0 258.0,64.4 288.0,76.4 311.5,85.8 345.0,93.6 368.0,101.0 391.8,106.5 408.5,113.7 432.0,120.4 456.0,126.3 481.0,132.0 506.0,136.0 531.0,139.0 559.7,140.0 581.4,141.8 598.0,143.8 615.0,143.8 636.6,141.8 654.0,140.0 679.0,138.6 704.0,136.9 729.0,134.4 747.6,133.5 767.7,134.9 781.0,137.7 792.8,141.9 807.8,148.6 824.6,155.3 838.0,160.3 852.0,167.8 857.0,172.5 873.8,179.2 890.5,190.0 907.0,199.3 918.0,204.3" fill="none" stroke="#8e1b1b" stroke-width="1.75" stroke-linejoin="round"/>
<polyline points="61.0,41.5 93.4,43.8 127.0,46.5 160.0,48.2 177.0,49.8 199.0,53.5 227.0,64.4 244.0,70.0 258.0,75.2 284.8,86.4 311.5,94.0 345.0,99.8 368.0,107.8 391.8,113.7 408.5,121.2 432.0,129.6 456.0,139.0 472.7,146.0 489.4,153.5 506.0,160.2 523.0,166.0 539.6,170.0 556.0,173.0 573.0,175.0 590.0,176.6 606.5,177.0 623.0,174.4 640.0,172.0 654.0,170.5 679.0,165.3 704.0,162.0 729.0,157.0 747.6,154.4 771.0,152.8 791.0,153.3 807.8,157.0 824.6,161.0 838.0,164.0 852.0,168.7 855.4,170.0 873.8,176.7 897.0,186.7 918.0,199.3" fill="none" stroke="#43a640" stroke-width="2.5" stroke-linejoin="round"/>
<polyline points="61.0,59.4 85.0,56.9 101.8,53.2 115.0,49.8 127.0,45.2 137.0,43.8 150.0,44.3 163.7,47.7 177.0,50.2 185.4,56.0 197.0,66.9 210.5,80.3 220.5,88.6 234.0,103.7 240.6,113.0 258.0,129.6 274.7,141.5 288.0,150.2 301.5,156.5 309.8,162.2 316.5,163.2 333.0,161.5 345.0,160.4 353.0,163.2 361.7,169.3 375.0,172.6 381.7,173.5 391.8,171.0 398.5,176.0 408.5,184.3 418.5,186.9 435.0,187.7 447.0,188.9 456.0,190.3 469.4,192.8 482.8,190.3 499.5,186.0 519.5,184.4 531.0,177.8 546.0,171.6 559.7,167.7 576.4,166.9 590.0,165.0 598.0,166.0 611.5,162.7 623.0,155.0 640.0,144.3 654.0,137.7 679.0,130.2 690.8,130.2 704.0,126.0 721.0,119.3 734.0,116.0 742.6,116.8 752.7,120.0 761.0,126.0 771.0,135.2 781.0,147.0 791.0,163.6 795.0,170.0 806.9,191.7 818.6,208.5 832.0,220.0 840.0,228.5 850.0,245.0 863.7,261.0 873.8,268.7 882.0,280.0 893.7,293.4 907.0,310.0 917.0,315.5" fill="none" stroke="#ff8a2b" stroke-width="1.1" stroke-linejoin="round"/>
<polyline points="61.0,63.9 85.0,67.4 98.5,67.7 115.0,64.4 132.0,59.4 148.6,54.3 163.7,51.8 177.0,51.0 188.8,52.2 198.8,54.3 210.5,58.5 227.0,66.0 244.0,77.0 258.0,86.0 274.7,97.0 291.4,110.3 308.0,124.2 325.0,134.6 346.6,147.3 361.7,158.5 375.0,165.0 391.8,169.3 400.0,173.5 410.0,178.5 425.0,179.8 442.0,181.8 456.0,183.7 467.7,185.6 489.4,185.0 511.0,186.0 529.6,187.8 544.6,184.4 563.0,181.6 574.7,182.0 590.0,177.0 611.5,172.7 623.0,168.6 640.0,161.0 654.0,154.5 670.7,148.6 692.5,142.7 709.0,136.9 729.0,131.0 747.6,128.2 762.7,127.4 777.7,128.9 791.0,133.2 801.0,140.2 812.9,152.0 826.0,163.6 838.0,172.0 853.7,186.7 873.8,207.6 890.5,228.5 907.0,250.3 917.0,265.3" fill="none" stroke="#1e96f0" stroke-width="2.5" stroke-linejoin="round" stroke-linecap="round"/>
<line x1="61.5" y1="178.7" x2="964.8" y2="393" stroke="#0000ff" stroke-width="1.6"/>
<line x1="731.8" y1="93.4" x2="938.3" y2="398.5" stroke="#0000ff" stroke-width="1.6"/>
<line x1="903" y1="344.4" x2="916.5" y2="264" stroke="#0000ff" stroke-width="1.6"/>
<polyline points="909.5,271.5 916.5,264 920.5,273.5" fill="none" stroke="#0000ff" stroke-width="1.6"/>
<g shape-rendering="crispEdges">
<rect x="0" y="0" width="1188" height="1" fill="#dfe1f0"/>
<rect x="0" y="640" width="1188" height="1" fill="#e3e5f2"/>
<rect x="60" y="1" width="1" height="639" fill="#5e5e5e"/>
<rect x="1139" y="1" width="1" height="639" fill="#5e5e5e"/>
<rect x="0" y="398.2" width="1188" height="1.15" fill="#606060" shape-rendering="auto"/>
<rect x="0" y="435.05" width="1188" height="1.15" fill="#606060" shape-rendering="auto"/>
<rect x="0" y="612.4" width="1188" height="1.5" fill="#737373" shape-rendering="auto"/>
<rect x="1140" y="1" width="48" height="4" fill="#0000ff"/>
<rect x="1140" y="19.0" width="4" height="1" fill="#555"/>
<rect x="1140" y="63.0" width="4" height="1" fill="#555"/>
<rect x="1140" y="107.0" width="4" height="1" fill="#555"/>
<rect x="1140" y="152.0" width="4" height="1" fill="#555"/>
<rect x="1140" y="196.0" width="4" height="1" fill="#555"/>
<rect x="1140" y="240.0" width="4" height="1" fill="#555"/>
<rect x="1140" y="284.0" width="4" height="1" fill="#555"/>
<rect x="1140" y="328.0" width="4" height="1" fill="#555"/>
<rect x="1140" y="372.0" width="4" height="1" fill="#555"/>
<rect x="1140" y="470.0" width="4" height="1" fill="#555"/>
<rect x="1140" y="520.0" width="4" height="1" fill="#555"/>
<rect x="1140" y="570.0" width="4" height="1" fill="#555"/>
<rect x="56" y="470.0" width="4" height="1" fill="#555"/>
<rect x="56" y="520.0" width="4" height="1" fill="#555"/>
<rect x="56" y="570.0" width="4" height="1" fill="#555"/>
<rect x="62.5" y="614" width="1" height="3" fill="#555"/>
<rect x="190.0" y="614" width="1" height="3" fill="#555"/>
<rect x="283.5" y="614" width="1" height="3" fill="#555"/>
<rect x="416.0" y="614" width="1" height="3" fill="#555"/>
<rect x="504.5" y="614" width="1" height="3" fill="#555"/>
<rect x="637.0" y="614" width="1" height="3" fill="#555"/>
<rect x="725.5" y="614" width="1" height="3" fill="#555"/>
<rect x="857.5" y="614" width="1" height="3" fill="#555"/>
<rect x="945.0" y="614" width="1" height="3" fill="#555"/>
<rect x="1077.5" y="614" width="1" height="3" fill="#555"/>
</g>
<text class="ax" x="1148" y="23.7">1.01000</text>
<text class="ax" x="1148" y="67.7">1.00500</text>
<text class="ax" x="1148" y="111.7">1.00000</text>
<text class="ax" x="1148" y="156.7">0.99500</text>
<text class="ax" x="1148" y="200.7">0.99000</text>
<text class="ax" x="1148" y="244.7">0.98500</text>
<text class="ax" x="1148" y="288.7">0.98000</text>
<text class="ax" x="1148" y="332.7">0.97500</text>
<text class="ax" x="1148" y="376.7">0.97000</text>
<text class="ax" x="1148" y="474.7">200.00</text>
<text class="ax" x="51" y="474.7" text-anchor="end">200.00</text>
<text class="ax" x="1148" y="524.7">0.00</text>
<text class="ax" x="51" y="524.7" text-anchor="end">0.00</text>
<text class="ax" x="1148" y="574.7">−200.00</text>
<text class="ax" x="51" y="574.7" text-anchor="end">−200.00</text>
<rect x="1139" y="309.5" width="49" height="18.5" fill="#3a7d1e" shape-rendering="crispEdges"/>
<rect x="1140" y="318.5" width="4" height="1" fill="#e8f0e4"/>
<text x="1148" y="323" font-size="12" font-weight="bold" fill="#fff">0.97611</text>
<clipPath id="c29"><rect x="61" y="615" width="40" height="24"/></clipPath>
<text class="tm" x="63" y="632" text-anchor="middle" clip-path="url(#c29)">29</text>
<text class="tm" x="190.5" y="632" text-anchor="middle" font-weight="bold">Jun</text>
<text class="tm" x="284" y="632" text-anchor="middle">5</text>
<text class="tm" x="416.5" y="632" text-anchor="middle">10</text>
<text class="tm" x="505" y="632" text-anchor="middle">12</text>
<text class="tm" x="637.5" y="632" text-anchor="middle">17</text>
<text class="tm" x="726" y="632" text-anchor="middle">19</text>
<text class="tm" x="858" y="632" text-anchor="middle">24</text>
<text class="tm" x="945.5" y="632" text-anchor="middle">26</text>
<text class="tm" x="1078" y="632" text-anchor="middle" font-weight="bold">Jul</text>
<circle cx="31" cy="627" r="8" fill="#eff1f8"/>
<text x="31" y="630.5" font-size="9" fill="#333" text-anchor="middle">Z</text>
<circle cx="1169" cy="627" r="8" fill="#eff1f8"/>
<text x="1169" y="630.5" font-size="9" fill="#333" text-anchor="middle">A</text>
<text x="291" y="661" font-size="13" font-weight="bold" fill="#000" textLength="189" lengthAdjust="spacingAndGlyphs">Created with Tradingview.com</text>
<circle cx="524.3" cy="599" r="12.5" fill="#fff" stroke="#eef0f3" stroke-width="1.5"/>
<circle cx="555.8" cy="599" r="12.5" fill="#fff" stroke="#eef0f3" stroke-width="1.5"/>
<circle cx="599.7" cy="599" r="12.5" fill="#fff" stroke="#eef0f3" stroke-width="1.5"/>
<circle cx="631.5" cy="599" r="12.5" fill="#fff" stroke="#eef0f3" stroke-width="1.5"/>
<circle cx="675.4" cy="599" r="12.5" fill="#fff" stroke="#eef0f3" stroke-width="1.5"/>
<path d="M519.3 598.5h10" stroke="#5d7080" stroke-width="1.6" fill="none" stroke-linecap="round" stroke-linejoin="round"/>
<path d="M550.8 598.5h10M555.8 593.5v10" stroke="#5d7080" stroke-width="1.6" fill="none" stroke-linecap="round" stroke-linejoin="round"/>
<path d="M602 593l-5 5.5l5 5.5" stroke="#5d7080" stroke-width="1.6" fill="none" stroke-linecap="round" stroke-linejoin="round"/>
<path d="M629.5 593l5 5.5l-5 5.5" stroke="#5d7080" stroke-width="1.6" fill="none" stroke-linecap="round" stroke-linejoin="round"/>
<path d="M671.5 596a5.5 5.5 0 1 0 4-2.6M676.5 590.3l-3.2 3.2l3.4 3" stroke="#5d7080" stroke-width="1.6" fill="none" stroke-linecap="round" stroke-linejoin="round"/>
<rect x="72.5" y="12.5" width="11" height="11" rx="2" fill="#fff" stroke="#7a7f9a" stroke-width="1"/><rect x="75" y="17.5" width="6" height="1.3" fill="#9a9eb0"/>
<path d="M92.2 12.2h10.2l-3 5.7l3 5.8h-10.2z" fill="#c7cad5"/>
<text x="107" y="22.6" font-size="14.5" fill="#454545" textLength="24.8" lengthAdjust="spacingAndGlyphs">U.S.</text>
<text x="139.1" y="22.6" font-size="14.5" fill="#454545" textLength="38.9" lengthAdjust="spacingAndGlyphs">Dollar</text>
<text x="184.7" y="22.6" font-size="14.5" fill="#454545" textLength="4.5" lengthAdjust="spacingAndGlyphs">/</text>
<text x="195.2" y="22.6" font-size="14.5" fill="#454545" textLength="35.7" lengthAdjust="spacingAndGlyphs">Swiss</text>
<text x="235.4" y="22.6" font-size="14.5" fill="#454545" textLength="35.5" lengthAdjust="spacingAndGlyphs">Franc</text>
<text x="273.8" y="22.6" font-size="14.5" fill="#454545" textLength="3" lengthAdjust="spacingAndGlyphs">·</text>
<text x="281.8" y="22.6" font-size="14.5" fill="#454545" textLength="15.2" lengthAdjust="spacingAndGlyphs">60</text>
<text x="301.2" y="22.6" font-size="14.5" fill="#454545" textLength="3" lengthAdjust="spacingAndGlyphs">·</text>
<text x="308.4" y="22.6" font-size="14.5" fill="#454545" textLength="35.5" lengthAdjust="spacingAndGlyphs">FXCM</text>
<path d="M347.2 15.6l2.8 2.8l2.8 -2.8" stroke="#444" stroke-width="1.5" fill="none"/>
<text x="368.3" y="22.5" font-size="11.5" fill="#2f5f3a" textLength="48" lengthAdjust="spacingAndGlyphs">O0.97556</text>
<text x="426.6" y="22.5" font-size="11.5" fill="#2f5f3a" textLength="46.7" lengthAdjust="spacingAndGlyphs">H0.97611</text>
<text x="484.2" y="22.5" font-size="11.5" fill="#2f5f3a" textLength="45.2" lengthAdjust="spacingAndGlyphs">L0.97532</text>
<text x="539.3" y="22.5" font-size="11.5" fill="#2f5f3a" textLength="46.2" lengthAdjust="spacingAndGlyphs">C0.97611</text>
<text x="597.3" y="22.5" font-size="11.5" fill="#2f5f3a" textLength="91.6" lengthAdjust="spacingAndGlyphs">+0.00055 (+0.06%)</text>
<rect x="548.5" y="-3" width="110" height="16.5" rx="2" fill="#fff" stroke="#d8d8d8" stroke-width="1"/>
<text x="552.5" y="10.5" font-size="10.5" fill="#b9b9b9" textLength="97" lengthAdjust="spacingAndGlyphs">Exit Full Screen (ESC)</text>
<text class="lg" x="72" y="43.7" textLength="78" lengthAdjust="spacingAndGlyphs">MA (100, close)</text>
<path d="M155 38.2l2.8 2.8l2.8 -2.8" stroke="#555" stroke-width="1.5" fill="none"/>
<rect x="170.5" y="33.9" width="11.8" height="12" rx="1.6" fill="#c3c6d2" fill-opacity="1"/><ellipse cx="176.4" cy="39.9" rx="4.8" ry="3.9" fill="#fff"/><circle cx="176.4" cy="39.9" r="2.5" fill="#c3c6d2"/><circle cx="176.4" cy="39.9" r="1.15" fill="#fff"/>
<rect x="185.3" y="33.9" width="11.8" height="12" rx="1.6" fill="#c3c6d2" fill-opacity="1"/><polygon points="190.18,35.72 192.22,35.72 192.48,37.02 192.33,36.96 193.43,36.22 194.88,37.67 194.14,38.77 194.08,38.62 195.38,38.88 195.38,40.92 194.08,41.18 194.14,41.03 194.88,42.13 193.43,43.58 192.33,42.84 192.48,42.78 192.22,44.08 190.18,44.08 189.92,42.78 190.07,42.84 188.97,43.58 187.52,42.13 188.26,41.03 188.32,41.18 187.02,40.92 187.02,38.88 188.32,38.62 188.26,38.77 187.52,37.67 188.97,36.22 190.07,36.96 189.92,37.02" fill="#fff"/><circle cx="191.2" cy="39.9" r="1.45" fill="#c3c6d2"/>
<rect x="200.1" y="33.9" width="11.8" height="12" rx="1.6" fill="#c3c6d2" fill-opacity="1"/><path d="M202.1 36.3l7.8 7.2M209.9 36.3l-7.8 7.2" stroke="#fff" stroke-width="1.8" fill="none"/>
<text x="219.7" y="43.7" font-size="11.5" fill="#2196f3" textLength="40" lengthAdjust="spacingAndGlyphs">0.98208</text>
<text class="lg" x="72" y="64.7" textLength="78" lengthAdjust="spacingAndGlyphs">EMA (55, close)</text>
<path d="M155 59.2l2.8 2.8l2.8 -2.8" stroke="#555" stroke-width="1.5" fill="none"/>
<rect x="170.5" y="54.9" width="11.8" height="12" rx="1.6" fill="#c3c6d2" fill-opacity="1"/><ellipse cx="176.4" cy="60.9" rx="4.8" ry="3.9" fill="#fff"/><circle cx="176.4" cy="60.9" r="2.5" fill="#c3c6d2"/><circle cx="176.4" cy="60.9" r="1.15" fill="#fff"/>
<rect x="185.3" y="54.9" width="11.8" height="12" rx="1.6" fill="#c3c6d2" fill-opacity="1"/><polygon points="190.18,56.72 192.22,56.72 192.48,58.02 192.33,57.96 193.43,57.22 194.88,58.67 194.14,59.77 194.08,59.62 195.38,59.88 195.38,61.92 194.08,62.18 194.14,62.03 194.88,63.13 193.43,64.58 192.33,63.84 192.48,63.78 192.22,65.08 190.18,65.08 189.92,63.78 190.07,63.84 188.97,64.58 187.52,63.13 188.26,62.03 188.32,62.18 187.02,61.92 187.02,59.88 188.32,59.62 188.26,59.77 187.52,58.67 188.97,57.22 190.07,57.96 189.92,58.02" fill="#fff"/><circle cx="191.2" cy="60.9" r="1.45" fill="#c3c6d2"/>
<rect x="200.1" y="54.9" width="11.8" height="12" rx="1.6" fill="#c3c6d2" fill-opacity="1"/><path d="M202.1 57.3l7.8 7.2M209.9 57.3l-7.8 7.2" stroke="#fff" stroke-width="1.8" fill="none"/>
<text x="219.7" y="64.7" font-size="11.5" fill="#f57c1f" textLength="40" lengthAdjust="spacingAndGlyphs">0.97651</text>
<text class="lg" x="72" y="85.7" textLength="78" lengthAdjust="spacingAndGlyphs">MA (200, close)</text>
<path d="M155 80.2l2.8 2.8l2.8 -2.8" stroke="#555" stroke-width="1.5" fill="none"/>
<rect x="170.5" y="75.9" width="11.8" height="12" rx="1.6" fill="#c3c6d2" fill-opacity="1"/><ellipse cx="176.4" cy="81.9" rx="4.8" ry="3.9" fill="#fff"/><circle cx="176.4" cy="81.9" r="2.5" fill="#c3c6d2"/><circle cx="176.4" cy="81.9" r="1.15" fill="#fff"/>
<rect x="185.3" y="75.9" width="11.8" height="12" rx="1.6" fill="#c3c6d2" fill-opacity="1"/><polygon points="190.18,77.72 192.22,77.72 192.48,79.02 192.33,78.96 193.43,78.22 194.88,79.67 194.14,80.77 194.08,80.62 195.38,80.88 195.38,82.92 194.08,83.18 194.14,83.03 194.88,84.13 193.43,85.58 192.33,84.84 192.48,84.78 192.22,86.08 190.18,86.08 189.92,84.78 190.07,84.84 188.97,85.58 187.52,84.13 188.26,83.03 188.32,83.18 187.02,82.92 187.02,80.88 188.32,80.62 188.26,80.77 187.52,79.67 188.97,78.22 190.07,78.96 189.92,79.02" fill="#fff"/><circle cx="191.2" cy="81.9" r="1.45" fill="#c3c6d2"/>
<rect x="200.1" y="75.9" width="11.8" height="12" rx="1.6" fill="#c3c6d2" fill-opacity="1"/><path d="M202.1 78.3l7.8 7.2M209.9 78.3l-7.8 7.2" stroke="#fff" stroke-width="1.8" fill="none"/>
<text x="219.7" y="85.7" font-size="11.5" fill="#43a640" textLength="40" lengthAdjust="spacingAndGlyphs">0.98973</text>
<text class="lg" x="72" y="106.7" textLength="84" lengthAdjust="spacingAndGlyphs">EMA (300, close)</text>
<path d="M161 101.2l2.8 2.8l2.8 -2.8" stroke="#555" stroke-width="1.5" fill="none"/>
<rect x="176.5" y="96.9" width="11.8" height="12" rx="1.6" fill="#c3c6d2" fill-opacity="1"/><ellipse cx="182.4" cy="102.9" rx="4.8" ry="3.9" fill="#fff"/><circle cx="182.4" cy="102.9" r="2.5" fill="#c3c6d2"/><circle cx="182.4" cy="102.9" r="1.15" fill="#fff"/>
<rect x="191.3" y="96.9" width="11.8" height="12" rx="1.6" fill="#c3c6d2" fill-opacity="1"/><polygon points="196.18,98.72 198.22,98.72 198.48,100.02 198.33,99.96 199.43,99.22 200.88,100.67 200.14,101.77 200.08,101.62 201.38,101.88 201.38,103.92 200.08,104.18 200.14,104.03 200.88,105.13 199.43,106.58 198.33,105.84 198.48,105.78 198.22,107.08 196.18,107.08 195.92,105.78 196.07,105.84 194.97,106.58 193.52,105.13 194.26,104.03 194.32,104.18 193.02,103.92 193.02,101.88 194.32,101.62 194.26,101.77 193.52,100.67 194.97,99.22 196.07,99.96 195.92,100.02" fill="#fff"/><circle cx="197.2" cy="102.9" r="1.45" fill="#c3c6d2"/>
<rect x="206.1" y="96.9" width="11.8" height="12" rx="1.6" fill="#c3c6d2" fill-opacity="1"/><path d="M208.1 99.3l7.8 7.2M215.9 99.3l-7.8 7.2" stroke="#fff" stroke-width="1.8" fill="none"/>
<text x="225.5" y="106.7" font-size="11.5" fill="#8e1b1b" textLength="40" lengthAdjust="spacingAndGlyphs">0.98906</text>
<text x="72" y="127.7" font-size="11.5" fill="#b4b8c6" textLength="122" lengthAdjust="spacingAndGlyphs">Ichimoku (9, 26, 52, 26)</text>
<path d="M199 122.2l2.8 2.8l2.8 -2.8" stroke="#b4b8c6" stroke-width="1.5" fill="none"/>
<rect x="215.2" y="117.9" width="11.8" height="12" rx="1.6" fill="#2196f3" fill-opacity="1"/><ellipse cx="221.1" cy="123.9" rx="4.2" ry="3.3" fill="none" stroke="#fff" stroke-width="1.5"/><circle cx="221.1" cy="123.9" r="1.1" fill="#fff"/><path d="M216.0 129.1L226.2 118.7" stroke="#fff" stroke-width="1.3"/>
<rect x="230.1" y="117.9" width="11.8" height="12" rx="1.6" fill="#c3c6d2" fill-opacity="1"/><polygon points="234.98,119.72 237.02,119.72 237.28,121.02 237.13,120.96 238.23,120.22 239.68,121.67 238.94,122.77 238.88,122.62 240.18,122.88 240.18,124.92 238.88,125.18 238.94,125.03 239.68,126.13 238.23,127.58 237.13,126.84 237.28,126.78 237.02,128.08 234.98,128.08 234.72,126.78 234.87,126.84 233.77,127.58 232.32,126.13 233.06,125.03 233.12,125.18 231.82,124.92 231.82,122.88 233.12,122.62 233.06,122.77 232.32,121.67 233.77,120.22 234.87,120.96 234.72,121.02" fill="#fff"/><circle cx="236.0" cy="123.9" r="1.45" fill="#c3c6d2"/>
<rect x="245.1" y="117.9" width="11.8" height="12" rx="1.6" fill="#c3c6d2" fill-opacity="1"/><path d="M250.0 120.1q-2 0 -2 1.7v0.9q0 1.2 -1.3 1.2q1.3 0 1.3 1.2v0.9q0 1.7 2 1.7M252.0 120.1q2 0 2 1.7v0.9q0 1.2 1.3 1.2q-1.3 0 -1.3 1.2v0.9q0 1.7 -2 1.7" stroke="#fff" stroke-width="1.8" fill="none"/>
<rect x="260.1" y="117.9" width="11.8" height="12" rx="1.6" fill="#c3c6d2" fill-opacity="1"/><path d="M262.1 120.3l7.8 7.2M269.9 120.3l-7.8 7.2" stroke="#fff" stroke-width="1.8" fill="none"/>
<text class="lg" x="72" y="454.5" textLength="73" lengthAdjust="spacingAndGlyphs">CCI (50, close)</text>
<path d="M150 448.7l2.8 2.8l2.8 -2.8" stroke="#555" stroke-width="1.5" fill="none"/>
<rect x="167.1" y="444.0" width="11.8" height="12" rx="1.6" fill="#c3c6d2" fill-opacity="1"/><ellipse cx="173.0" cy="450.0" rx="4.8" ry="3.9" fill="#fff"/><circle cx="173.0" cy="450.0" r="2.5" fill="#c3c6d2"/><circle cx="173.0" cy="450.0" r="1.15" fill="#fff"/>
<rect x="182.0" y="444.0" width="11.8" height="12" rx="1.6" fill="#c3c6d2" fill-opacity="1"/><polygon points="186.88,445.82 188.92,445.82 189.18,447.12 189.03,447.06 190.13,446.32 191.58,447.77 190.84,448.87 190.78,448.72 192.08,448.98 192.08,451.02 190.78,451.28 190.84,451.13 191.58,452.23 190.13,453.68 189.03,452.94 189.18,452.88 188.92,454.18 186.88,454.18 186.62,452.88 186.77,452.94 185.67,453.68 184.22,452.23 184.96,451.13 185.02,451.28 183.72,451.02 183.72,448.98 185.02,448.72 184.96,448.87 184.22,447.77 185.67,446.32 186.77,447.06 186.62,447.12" fill="#fff"/><circle cx="187.9" cy="450.0" r="1.45" fill="#c3c6d2"/>
<rect x="196.9" y="444.0" width="11.8" height="12" rx="1.6" fill="#c3c6d2" fill-opacity="1"/><path d="M198.9 446.4l7.8 7.2M206.7 446.4l-7.8 7.2" stroke="#fff" stroke-width="1.8" fill="none"/>
<text x="216.5" y="454.5" font-size="11.5" fill="#2a2aff" textLength="26" lengthAdjust="spacingAndGlyphs">12.31</text>
<text class="lg" x="72" y="475.5" textLength="73" lengthAdjust="spacingAndGlyphs">CCI (50, close)</text>
<path d="M150 469.7l2.8 2.8l2.8 -2.8" stroke="#555" stroke-width="1.5" fill="none"/>
<rect x="167.1" y="465.0" width="11.8" height="12" rx="1.6" fill="#c3c6d2" fill-opacity="1"/><ellipse cx="173.0" cy="471.0" rx="4.8" ry="3.9" fill="#fff"/><circle cx="173.0" cy="471.0" r="2.5" fill="#c3c6d2"/><circle cx="173.0" cy="471.0" r="1.15" fill="#fff"/>
<rect x="182.0" y="465.0" width="11.8" height="12" rx="1.6" fill="#c3c6d2" fill-opacity="1"/><polygon points="186.88,466.82 188.92,466.82 189.18,468.12 189.03,468.06 190.13,467.32 191.58,468.77 190.84,469.87 190.78,469.72 192.08,469.98 192.08,472.02 190.78,472.28 190.84,472.13 191.58,473.23 190.13,474.68 189.03,473.94 189.18,473.88 188.92,475.18 186.88,475.18 186.62,473.88 186.77,473.94 185.67,474.68 184.22,473.23 184.96,472.13 185.02,472.28 183.72,472.02 183.72,469.98 185.02,469.72 184.96,469.87 184.22,468.77 185.67,467.32 186.77,468.06 186.62,468.12" fill="#fff"/><circle cx="187.9" cy="471.0" r="1.45" fill="#c3c6d2"/>
<rect x="196.9" y="465.0" width="11.8" height="12" rx="1.6" fill="#c3c6d2" fill-opacity="1"/><path d="M198.9 467.4l7.8 7.2M206.7 467.4l-7.8 7.2" stroke="#fff" stroke-width="1.8" fill="none"/>
<text x="216.5" y="475.5" font-size="11.5" fill="#1f5fb0" textLength="26" lengthAdjust="spacingAndGlyphs">12.31</text>
</svg></body></html>
